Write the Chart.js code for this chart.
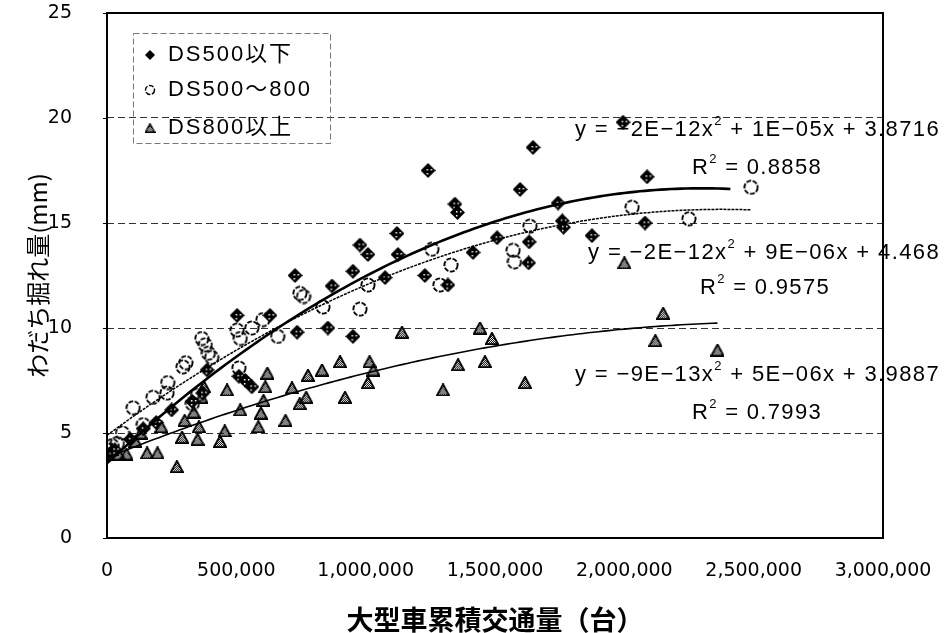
<!DOCTYPE html>
<html>
<head>
<meta charset="utf-8">
<script src="https://cdn.jsdelivr.net/npm/chart.js@4.4.1/dist/chart.umd.min.js"></script>
<style>
  html, body { margin: 0; padding: 0; background: #fff; overflow: hidden; }
  #wrap { width: 944px; height: 633px; }
  canvas { display: block; }
</style>
</head>
<body>
<div id="wrap"><canvas id="chart" width="944" height="633"></canvas></div>
<script>
// ---- data ----------------------------------------------------------------
const seriesNames = ['DS500以下', 'DS500〜800', 'DS800以上'];
const xTickValues = [0, 500000, 1000000, 1500000, 2000000, 2500000, 3000000];
const yTickValues = [0, 5, 10, 15, 20, 25];

// [cumulative heavy-vehicle traffic, rut depth (mm)]
const ds500Below = [
  [0, 4.0], [30000, 4.2], [90000, 4.7], [140000, 5.2], [190000, 5.5], [250000, 6.1],
  [330000, 6.5], [370000, 6.9], [387000, 8.0], [510000, 7.7], [535000, 7.5], [560000, 7.2],
  [503000, 10.6], [630000, 10.6], [727000, 12.5], [735000, 9.8], [854000, 10.0], [870000, 12.0],
  [951000, 12.7], [951000, 9.6], [978000, 13.95], [1009000, 13.5], [1075000, 12.4], [1121000, 14.5],
  [1125000, 13.5], [1229000, 12.5], [1241000, 17.5], [1318000, 12.05], [1345000, 15.9], [1355000, 15.5],
  [1415000, 13.6], [1508000, 14.3], [1597000, 16.6], [1632000, 14.1], [1630000, 13.1], [1647000, 18.6],
  [1744000, 15.95], [1760000, 15.1], [1765000, 14.8], [1875000, 14.4], [1995000, 19.8], [2080000, 15.0],
  [2088000, 17.2]
];
const ds500To800 = [
  [0, 4.0], [0, 4.2], [20000, 4.4], [40000, 4.5], [60000, 5.0], [101000, 6.2], [140000, 5.4],
  [178000, 6.7], [232000, 6.9], [235000, 7.4], [294000, 8.15], [305000, 8.35], [330000, 6.4],
  [350000, 6.8], [367000, 9.5], [380000, 9.2], [392000, 8.8], [405000, 8.6], [510000, 8.1],
  [503000, 9.9], [515000, 9.5], [560000, 10.0], [603000, 10.4], [660000, 9.6], [746000, 11.65],
  [760000, 11.5], [835000, 11.0], [978000, 10.9], [1009000, 12.05], [1256000, 13.75], [1287000, 12.05],
  [1330000, 13.0], [1570000, 13.7], [1575000, 13.15], [1635000, 14.85], [2030000, 15.75], [2250000, 15.2],
  [2490000, 16.7]
];
const ds800Above = [
  [0, 4.0], [20000, 4.2], [45000, 4.0], [75000, 4.0], [110000, 4.6], [130000, 5.0],
  [155000, 4.05], [195000, 4.05], [210000, 5.3], [270000, 3.4], [290000, 4.8], [300000, 5.6],
  [335000, 6.0], [350000, 4.7], [355000, 5.3], [365000, 6.7], [375000, 7.2], [437000, 4.6],
  [455000, 5.1], [464000, 7.05], [515000, 6.1], [585000, 5.3], [595000, 5.95], [605000, 6.55],
  [612000, 7.2], [620000, 7.85], [690000, 5.6], [715000, 7.15], [745000, 6.4], [770000, 6.7],
  [777000, 7.75], [831000, 8.0], [901000, 8.4], [920000, 6.7], [1009000, 7.4], [1015000, 8.4],
  [1030000, 8.0], [1140000, 9.8], [1299000, 7.05], [1357000, 8.25], [1442000, 10.0], [1461000, 8.4],
  [1488000, 9.5], [1616000, 7.4], [2000000, 13.1], [2120000, 9.4], [2150000, 10.7], [2360000, 8.95]
];
// right end of each fitted curve
const trendEndX = [2410000, 2490000, 2360000];

// regression labels as printed
const equationText = [
  [['y = −2E−12x', false], ['2', true], [' + 1E−05x + 3.8716', false]],
  [['y = −2E−12x', false], ['2', true], [' + 9E−06x + 4.468', false]],
  [['y = −9E−13x', false], ['2', true], [' + 5E−06x + 3.9887', false]]
];
const rSquaredText = ['0.8858', '0.9575', '0.7993'];

// ---- quadratic least squares (x in millions) -----------------------------
function quadFit(points) {
  const S = [0, 0, 0, 0, 0], T = [0, 0, 0];
  for (const [x, y] of points) {
    const u = x / 1e6;
    let p = 1;
    for (let k = 0; k < 5; k++) {
      S[k] += p;
      if (k < 3) T[k] += y * p;
      p *= u;
    }
  }
  const A = [[S[4], S[3], S[2], T[2]], [S[3], S[2], S[1], T[1]], [S[2], S[1], S[0], T[0]]];
  for (let i = 0; i < 3; i++) {
    for (let j = i + 1; j < 3; j++) {
      const f = A[j][i] / A[i][i];
      for (let k = i; k < 4; k++) A[j][k] -= f * A[i][k];
    }
  }
  const r = [0, 0, 0];
  for (let i = 2; i >= 0; i--) {
    let s = A[i][3];
    for (let k = i + 1; k < 3; k++) s -= A[i][k] * r[k];
    r[i] = s / A[i][i];
  }
  return r; // [a, b, c]
}
function trendPoints(points, endX) {
  const [a, b, c] = quadFit(points);
  const out = [];
  for (let x = 0; x < endX; x += 20000) {
    const u = x / 1e6;
    out.push({ x, y: a * u * u + b * u + c });
  }
  const u = endX / 1e6;
  out.push({ x: endX, y: a * u * u + b * u + c });
  return out;
}

// ---- marker images ---------------------------------------------------------
function diamondMarker(size, speckle) {
  const c = document.createElement('canvas');
  c.width = c.height = size;
  const g = c.getContext('2d');
  const h = size / 2;
  g.beginPath();
  g.moveTo(h, 0); g.lineTo(size, h); g.lineTo(h, size); g.lineTo(0, h);
  g.closePath();
  g.fillStyle = '#000';
  g.fill();
  if (speckle) {
    g.fillStyle = '#fff';
    for (let yy = 2; yy < size - 2; yy += 4) {
      for (let xx = 2; xx < size - 2; xx += 4) {
        if (Math.abs(xx + 0.5 - h) + Math.abs(yy + 0.5 - h) < h - 3) g.fillRect(xx, yy, 1.5, 1.5);
      }
    }
  }
  return c;
}
function circleMarker(size, r, lw) {
  const c = document.createElement('canvas');
  c.width = c.height = size;
  const g = c.getContext('2d');
  g.beginPath();
  g.arc(size / 2, size / 2, r, 0, Math.PI * 2);
  g.lineWidth = lw;
  g.strokeStyle = '#000';
  g.setLineDash([5, 1.5]);
  g.stroke();
  return c;
}
function triangleMarker(w, h, lw) {
  const c = document.createElement('canvas');
  c.width = w; c.height = h;
  const g = c.getContext('2d');
  g.beginPath();
  g.moveTo(w / 2, 0.8); g.lineTo(w - 0.8, h - 0.8); g.lineTo(0.8, h - 0.8);
  g.closePath();
  g.save();
  g.clip();
  g.fillStyle = '#000';
  for (let yy = 0; yy < h; yy++) {
    for (let xx = 0; xx < w; xx++) {
      if ((xx + yy) % 2 === 0) g.fillRect(xx, yy, 1, 1);
    }
  }
  g.restore();
  g.lineWidth = lw;
  g.strokeStyle = '#000';
  g.stroke();
  return c;
}

const pointImages = [diamondMarker(15, true), circleMarker(16, 6.6, 1.9), triangleMarker(14, 13, 1.8)];
const legendImages = [diamondMarker(10, true), circleMarker(12, 4.5, 1.4), triangleMarker(11, 10, 1.4)];

// ---- text helper with superscripts and fitted letter spacing ---------------
function drawRich(ctx, x, y, parts, size, targetWidth) {
  const font = size + "px 'Liberation Sans', 'Noto Sans CJK JP', sans-serif";
  const supFont = Math.round(size * 0.6) + "px 'Liberation Sans', sans-serif";
  ctx.save();
  ctx.textBaseline = 'middle';
  ctx.textAlign = 'left';
  ctx.fillStyle = '#000';
  ctx.letterSpacing = '0px';
  const widths = parts.map(([t, sup]) => { ctx.font = sup ? supFont : font; return ctx.measureText(t).width; });
  const natural = widths.reduce((s, v) => s + v, 0);
  const nChars = parts.reduce((n, [t]) => n + [...t].length, 0);
  const ls = targetWidth ? (targetWidth - natural) / nChars : 0;
  let cx = x;
  parts.forEach(([t, sup], i) => {
    ctx.font = sup ? supFont : font;
    ctx.letterSpacing = ls + 'px';
    ctx.fillText(t, cx, sup ? y - 9 : y);
    cx += widths[i] + ls * [...t].length;
  });
  ctx.restore();
}

// ---- overlay: legend, equations, plot frame --------------------------------
const overlayPlugin = {
  id: 'overlay',
  afterDatasetsDraw(chart) {
    const ctx = chart.ctx;
    // legend box
    ctx.save();
    ctx.strokeStyle = '#777';
    ctx.lineWidth = 1;
    ctx.setLineDash([6, 3]);
    ctx.strokeRect(133.5, 33.5, 197, 110);
    ctx.restore();
    const rowsY = [55, 90, 128];
    const textW = [125, 144, 125];
    seriesNames.forEach((name, i) => {
      const img = legendImages[i];
      ctx.drawImage(img, 150 - img.width / 2, rowsY[i] - img.height / 2);
      drawRich(ctx, 168, rowsY[i], [[name, false]], 22, textW[i]);
    });
    // regression equations and R²
    const eqPos = [[575, 130, 365], [588, 253, 352], [575, 375, 365]];
    const r2Pos = [[692, 168], [700, 288], [692, 413]];
    equationText.forEach((parts, i) => {
      drawRich(ctx, eqPos[i][0], eqPos[i][1], parts, 22, eqPos[i][2]);
      drawRich(ctx, r2Pos[i][0], r2Pos[i][1], [['R', false], ['2', true], [' = ' + rSquaredText[i], false]], 22, 130);
    });

    // plot frame and short outside ticks on the value axis
    const { left, top, right, bottom } = chart.chartArea;
    const yScale = chart.scales.y;
    ctx.save();
    ctx.strokeStyle = '#000';
    ctx.lineWidth = 2;
    ctx.setLineDash([]);
    ctx.strokeRect(left, top, right - left, bottom - top);
    ctx.lineWidth = 1;
    yTickValues.forEach(v => {
      const py = Math.round(yScale.getPixelForValue(v)) + 0.5;
      ctx.beginPath();
      ctx.moveTo(left - 4, py);
      ctx.lineTo(left, py);
      ctx.stroke();
    });
    ctx.restore();
  }
};

// ---- chart -----------------------------------------------------------------
const groups = [ds500Below, ds500To800, ds800Above];
const trendStyles = [
  { borderWidth: 2.6, borderDash: [] },
  { borderWidth: 1.5, borderDash: [3, 1] },
  { borderWidth: 1.6, borderDash: [] }
];
const datasets = [];
groups.forEach((pts, i) => {
  datasets.push({
    type: 'line',
    label: seriesNames[i] + ' trend',
    data: trendPoints(pts, trendEndX[i]),
    borderColor: '#000',
    borderWidth: trendStyles[i].borderWidth,
    borderDash: trendStyles[i].borderDash,
    pointRadius: 0,
    fill: false,
    tension: 0,
    order: 0
  });
});
groups.forEach((pts, i) => {
  datasets.push({
    type: 'scatter',
    label: seriesNames[i],
    data: pts.map(([x, y]) => ({ x, y })),
    pointStyle: pointImages[i],
    pointRadius: 7,
    order: 1
  });
});

const tickFont = { family: "'DejaVu Sans', sans-serif", size: 19 };

new Chart(document.getElementById('chart'), {
  type: 'scatter',
  data: { datasets },
  options: {
    responsive: false,
    animation: false,
    layout: { padding: { top: 13, right: 61, left: 0, bottom: 0 } },
    plugins: { legend: { display: false }, tooltip: { enabled: false } },
    scales: {
      x: {
        type: 'linear',
        min: 0,
        max: 3000000,
        afterFit(s) { s.height = 95; },
        afterBuildTicks(s) { s.ticks = xTickValues.map(v => ({ value: v })); },
        ticks: {
          font: tickFont,
          color: '#000',
          padding: 0,
          maxRotation: 0,
          autoSkip: false,
          callback: v => v.toLocaleString('en-US')
        },
        grid: { display: true, drawOnChartArea: false, drawTicks: true, tickLength: 22, tickColor: 'rgba(0,0,0,0)' },
        border: { display: false },
        title: {
          display: true,
          text: '大型車累積交通量（台）',
          color: '#000',
          font: { family: "'Noto Sans CJK JP', sans-serif", size: 27, weight: 'bold', lineHeight: 1 },
          padding: { top: 0, bottom: 0 }
        }
      },
      y: {
        type: 'linear',
        min: 0,
        max: 25,
        afterFit(s) { s.width = 107; },
        afterBuildTicks(s) { s.ticks = yTickValues.map(v => ({ value: v })); },
        ticks: { font: tickFont, color: '#000', padding: 0 },
        grid: { color: '#333', lineWidth: 1, drawTicks: true, tickLength: 35, tickColor: 'rgba(0,0,0,0)' },
        border: { display: false, dash: [7, 4] },
        title: {
          display: true,
          text: 'わだち掘れ量(mm)',
          color: '#000',
          font: { family: "'Liberation Sans Narrow', 'Noto Sans CJK JP', sans-serif", size: 24, lineHeight: 1 },
          padding: { top: 26, bottom: 0 }
        }
      }
    }
  },
  plugins: [overlayPlugin]
});
</script>
</body>
</html>
